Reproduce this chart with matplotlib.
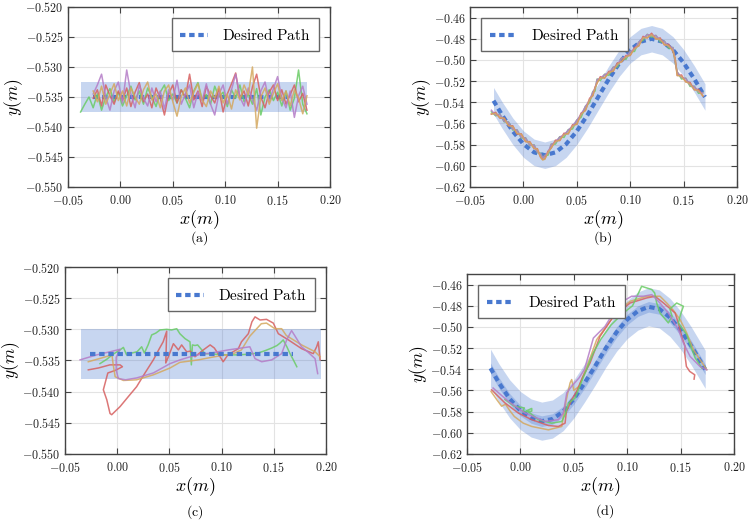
import numpy as np
import matplotlib.pyplot as plt
from matplotlib.ticker import FuncFormatter, MultipleLocator

plt.rcParams['mathtext.fontset'] = 'cm'
plt.rcParams['font.family'] = ['DejaVu Serif']

# ---- colours (seaborn muted style)
c_blue = '#4878CF'
c_green = '#6ACC65'
c_red = '#D65F5F'
c_purple = '#B47CC7'
c_yellow = '#D4A85F'

# ---------------- (a) straight line, noisy tracking ----------------
a_path_x = [-0.026, 0.160]
a_path_y = [-0.535, -0.535]
a_band_x = [-0.038, 0.178]
a_band_lo = -0.5375
a_band_hi = -0.5325

xa = [-0.026, -0.022, -0.018, -0.014, -0.010, -0.006, -0.002, 0.002, 0.006, 0.010,
      0.014, 0.018, 0.022, 0.026, 0.030, 0.034, 0.038, 0.042, 0.046, 0.050,
      0.054, 0.058, 0.062, 0.066, 0.070, 0.074, 0.078, 0.082, 0.086, 0.090,
      0.094, 0.098, 0.102, 0.106, 0.110, 0.114, 0.118, 0.122, 0.126, 0.130,
      0.134, 0.138, 0.142, 0.146, 0.150, 0.154, 0.158, 0.162, 0.166, 0.170,
      0.174, 0.178]
xa_green = [-0.038, -0.034, -0.030] + xa

a_purple = [-0.5345, -0.5330, -0.5312, -0.5350, -0.5372, -0.5340, -0.5325, -0.5360, -0.5305, -0.5345,
            -0.5368, -0.5330, -0.5352, -0.5365, -0.5335, -0.5358, -0.5340, -0.5370, -0.5338, -0.5355,
            -0.5322, -0.5362, -0.5345, -0.5330, -0.5368, -0.5342, -0.5356, -0.5328, -0.5362, -0.5380,
            -0.5345, -0.5330, -0.5362, -0.5338, -0.5312, -0.5350, -0.5365, -0.5335, -0.5355, -0.5372,
            -0.5340, -0.5325, -0.5358, -0.5336, -0.5316, -0.5352, -0.5368, -0.5340, -0.5384, -0.5348,
            -0.5332, -0.5362]
a_red = [-0.5352, -0.5338, -0.5365, -0.5330, -0.5348, -0.5362, -0.5340, -0.5356, -0.5335, -0.5366,
         -0.5342, -0.5326, -0.5358, -0.5345, -0.5368, -0.5335, -0.5352, -0.5380, -0.5345, -0.5330,
         -0.5360, -0.5338, -0.5350, -0.5312, -0.5355, -0.5340, -0.5366, -0.5332, -0.5348, -0.5360,
         -0.5336, -0.5375, -0.5345, -0.5328, -0.5310, -0.5352, -0.5340, -0.5365, -0.5333, -0.5312,
         -0.5350, -0.5368, -0.5342, -0.5330, -0.5356, -0.5338, -0.5362, -0.5346, -0.5330, -0.5358,
         -0.5344, -0.5372]
a_yellow = [-0.5340, -0.5358, -0.5332, -0.5362, -0.5345, -0.5328, -0.5356, -0.5340, -0.5365, -0.5335,
            -0.5350, -0.5362, -0.5338, -0.5325, -0.5355, -0.5345, -0.5368, -0.5340, -0.5330, -0.5358,
            -0.5382, -0.5350, -0.5335, -0.5360, -0.5342, -0.5328, -0.5355, -0.5366, -0.5340, -0.5352,
            -0.5332, -0.5360, -0.5345, -0.5370, -0.5338, -0.5355, -0.5330, -0.5346, -0.5300, -0.5402,
            -0.5350, -0.5335, -0.5362, -0.5344, -0.5328, -0.5356, -0.5340, -0.5365, -0.5338, -0.5352,
            -0.5378, -0.5348]
a_green = [-0.5375, -0.5362, -0.5350,
           -0.5368, -0.5345, -0.5372, -0.5350, -0.5336, -0.5358, -0.5342, -0.5365, -0.5348, -0.5332,
           -0.5355, -0.5340, -0.5362, -0.5335, -0.5350, -0.5366, -0.5342, -0.5330, -0.5356, -0.5345,
           -0.5360, -0.5338, -0.5352, -0.5368, -0.5340, -0.5326, -0.5355, -0.5346, -0.5362, -0.5332,
           -0.5350, -0.5342, -0.5366, -0.5338, -0.5352, -0.5330, -0.5358, -0.5345, -0.5362, -0.5336,
           -0.5380, -0.5350, -0.5338, -0.5356, -0.5342, -0.5365, -0.5340, -0.5372, -0.5352, -0.5305,
           -0.5362, -0.5378]

# ---------------- (b) sine path, noisy tracking ----------------
b_path_x = [-0.028, -0.02, -0.01, 0.0, 0.01, 0.02, 0.03, 0.04, 0.05, 0.06, 0.07,
            0.08, 0.09, 0.10, 0.11, 0.12, 0.13, 0.14, 0.15, 0.16, 0.17]
b_path_y = [-0.5385, -0.552, -0.5673, -0.5795, -0.5873, -0.590, -0.5873, -0.5795, -0.5673, -0.552, -0.535,
            -0.518, -0.5027, -0.4905, -0.4827, -0.480, -0.4827, -0.4905, -0.5027, -0.518, -0.535]
b_band = 0.0125

xb = [-0.030, -0.026, -0.022, -0.018, -0.014, -0.010, -0.006, -0.002, 0.002, 0.006,
      0.010, 0.013, 0.016, 0.018, 0.020, 0.023, 0.026, 0.030, 0.034, 0.038,
      0.042, 0.046, 0.050, 0.054, 0.058, 0.062, 0.065, 0.067, 0.069, 0.072,
      0.076, 0.080, 0.084, 0.088, 0.092, 0.096, 0.100, 0.104, 0.108, 0.112,
      0.116, 0.120, 0.124, 0.128, 0.132, 0.136, 0.140, 0.142, 0.144, 0.148,
      0.152, 0.156, 0.160, 0.164, 0.168]
b_green = [-0.5490, -0.5528, -0.5512, -0.5585, -0.5585, -0.5662, -0.5660, -0.5738, -0.5735, -0.5810,
           -0.5802, -0.5875, -0.5880, -0.5928, -0.5902, -0.5900, -0.5795, -0.5795, -0.5725, -0.5732,
           -0.5658, -0.5652, -0.5568, -0.5542, -0.5438, -0.5402, -0.5298, -0.5295, -0.5180, -0.5195,
           -0.5135, -0.5145, -0.5068, -0.5065, -0.4980, -0.4995, -0.4920, -0.4920, -0.4830, -0.4815,
           -0.4758, -0.4785, -0.4768, -0.4830, -0.4822, -0.4890, -0.4882, -0.5020, -0.5112, -0.5180,
           -0.5172, -0.5250, -0.5248, -0.5315, -0.5308]
b_red = [-0.5512, -0.5495, -0.5550, -0.5548, -0.5622, -0.5622, -0.5700, -0.5698, -0.5772, -0.5772,
         -0.5838, -0.5838, -0.5918, -0.5940, -0.5935, -0.5862, -0.5832, -0.5758, -0.5762, -0.5692,
         -0.5698, -0.5612, -0.5608, -0.5502, -0.5478, -0.5362, -0.5338, -0.5258, -0.5218, -0.5158,
         -0.5172, -0.5108, -0.5108, -0.5028, -0.5018, -0.4958, -0.4958, -0.4882, -0.4868, -0.4778,
         -0.4792, -0.4748, -0.4802, -0.4792, -0.4858, -0.4852, -0.4918, -0.4982, -0.5148, -0.5142,
         -0.5208, -0.5212, -0.5282, -0.5278, -0.5340]
b_purple = [-0.5475, -0.5522, -0.5515, -0.5580, -0.5588, -0.5655, -0.5662, -0.5732, -0.5738, -0.5805,
            -0.5805, -0.5870, -0.5885, -0.5925, -0.5905, -0.5880, -0.5798, -0.5780, -0.5728, -0.5710,
            -0.5662, -0.5630, -0.5570, -0.5518, -0.5440, -0.5380, -0.5302, -0.5272, -0.5185, -0.5175,
            -0.5138, -0.5125, -0.5072, -0.5048, -0.4982, -0.4975, -0.4922, -0.4900, -0.4832, -0.4798,
            -0.4760, -0.4770, -0.4770, -0.4815, -0.4825, -0.4875, -0.4885, -0.5015, -0.5115, -0.5165,
            -0.5175, -0.5238, -0.5252, -0.5302, -0.5312]
b_yellow = [-0.5510, -0.5505, -0.5545, -0.5552, -0.5620, -0.5628, -0.5695, -0.5702, -0.5770, -0.5778,
            -0.5835, -0.5842, -0.5915, -0.5945, -0.5938, -0.5875, -0.5830, -0.5770, -0.5758, -0.5705,
            -0.5695, -0.5625, -0.5605, -0.5515, -0.5475, -0.5375, -0.5335, -0.5270, -0.5215, -0.5170,
            -0.5170, -0.5120, -0.5105, -0.5040, -0.5015, -0.4970, -0.4955, -0.4895, -0.4865, -0.4790,
            -0.4790, -0.4760, -0.4800, -0.4805, -0.4855, -0.4865, -0.4915, -0.4990, -0.5145, -0.5155,
            -0.5205, -0.5225, -0.5280, -0.5290, -0.5340]

# ---------------- (c) straight line, smooth tracking ----------------
c_path_x = [-0.026, 0.168]
c_path_y = [-0.534, -0.534]
c_band_x = [-0.035, 0.195]
c_band_lo = -0.538
c_band_hi = -0.530

c_green_x = [-0.0165, -0.010, -0.004, 0.0027, 0.0059, 0.009, 0.014, 0.019, 0.0234, 0.026, 0.0296, 0.033,
             0.037, 0.041, 0.0474, 0.052, 0.057, 0.060, 0.065, 0.0697, 0.071, 0.072, 0.0745, 0.077, 0.084,
             0.095, 0.105, 0.116, 0.125, 0.135, 0.142, 0.148, 0.153, 0.156, 0.159, 0.1625, 0.1655, 0.169, 0.172]
c_green_y = [-0.5355, -0.5348, -0.5340, -0.5333, -0.5329, -0.5341, -0.5338, -0.5336, -0.5328, -0.5338, -0.5325,
             -0.5309, -0.5306, -0.5301, -0.5300, -0.5301, -0.5299, -0.5307, -0.5315, -0.5320, -0.5357, -0.5325,
             -0.5326, -0.5325, -0.5339, -0.5340, -0.5341, -0.5341, -0.5340, -0.5338, -0.5334, -0.5330, -0.5326,
             -0.5322, -0.5317, -0.5328, -0.5339, -0.5350, -0.5360]
c_red_x = [-0.0277, -0.018, -0.007, 0.0027, 0.005, -0.002, -0.009, -0.0133, -0.010, -0.0069, -0.0053, 0.0027,
           0.0106, 0.0186, 0.0266, 0.0346, 0.040, 0.044, 0.0474, 0.0465, 0.049, 0.0538, 0.0586, 0.0617, 0.0665,
           0.070, 0.0745, 0.0825, 0.089, 0.093, 0.097, 0.1015, 0.106, 0.111, 0.116, 0.119, 0.1256, 0.129, 0.132,
           0.1368, 0.143, 0.1495, 0.1543, 0.164, 0.1766, 0.1878, 0.191, 0.1926, 0.1943]
c_red_y = [-0.5365, -0.5362, -0.5357, -0.5357, -0.5360, -0.5366, -0.5370, -0.5397, -0.5413, -0.5435, -0.5437,
           -0.5424, -0.5408, -0.5392, -0.5370, -0.5349, -0.5332, -0.5320, -0.5303, -0.5354, -0.5344, -0.5323,
           -0.5333, -0.5325, -0.5336, -0.5335, -0.5344, -0.5333, -0.5325, -0.5330, -0.5340, -0.5352, -0.5341,
           -0.5336, -0.5331, -0.5320, -0.5307, -0.5288, -0.5280, -0.5285, -0.5284, -0.5290, -0.5307, -0.5317,
           -0.5331, -0.5339, -0.5328, -0.5320, -0.5349]
c_yellow_x = [-0.0277, -0.015, -0.005, -0.004, -0.002, 0.0059, 0.0186, 0.0346, 0.0506, 0.060, 0.0777, 0.090,
              0.100, 0.110, 0.119, 0.127, 0.1336, 0.138, 0.143, 0.151, 0.1575, 0.162, 0.1766, 0.1895, 0.1943]
c_yellow_y = [-0.5352, -0.5346, -0.5341, -0.5355, -0.5376, -0.5382, -0.5381, -0.5373, -0.5362, -0.5353, -0.5349,
              -0.5345, -0.5342, -0.5340, -0.5333, -0.5311, -0.5299, -0.5291, -0.5290, -0.5299, -0.5299, -0.5310,
              -0.5325, -0.5336, -0.5344]
c_purple_x = [-0.0356, -0.0197, -0.0069, 0.0027, -0.001, -0.001, 0.001, 0.008, 0.0186, 0.0346, 0.0506, 0.0602,
              0.070, 0.080, 0.090, 0.1065, 0.127, 0.132, 0.1384, 0.148, 0.1575, 0.1623, 0.167, 0.170, 0.1766,
              0.183, 0.1895, 0.192]
c_purple_y = [-0.5349, -0.5341, -0.5336, -0.5332, -0.5345, -0.5365, -0.5379, -0.5381, -0.5378, -0.5370, -0.5355,
              -0.5349, -0.5344, -0.5340, -0.5338, -0.5333, -0.5328, -0.5347, -0.5352, -0.5349, -0.5339, -0.5317,
              -0.5302, -0.5310, -0.5328, -0.5337, -0.5347, -0.5371]

# ---------------- (d) sine path, smooth tracking ----------------
d_path_x = [-0.028, -0.02, -0.01, 0.0, 0.01, 0.02, 0.03, 0.04, 0.05, 0.06, 0.07,
            0.08, 0.09, 0.10, 0.11, 0.12, 0.13, 0.14, 0.15, 0.16, 0.173]
d_path_y = [-0.539, -0.553, -0.568, -0.579, -0.586, -0.589, -0.587, -0.580, -0.568, -0.553, -0.537,
            -0.520, -0.505, -0.493, -0.485, -0.481, -0.483, -0.491, -0.503, -0.518, -0.540]
d_band_outer = 0.018
d_band_inner = 0.005

d_yellow_x = [-0.0275, -0.0222, -0.0176, -0.014, -0.010, -0.0057, 0.0027, 0.0106, 0.0262, 0.0387, 0.0418, 0.044,
              0.0465, 0.048, 0.050, 0.055, 0.060, 0.065, 0.0714, 0.080, 0.087, 0.095, 0.1027, 0.1183, 0.1307,
              0.137, 0.143, 0.1495, 0.1557, 0.162, 0.1682, 0.1745]
d_yellow_y = [-0.5610, -0.5686, -0.5749, -0.5730, -0.5790, -0.5846, -0.5909, -0.5940, -0.5972, -0.5940, -0.5749,
              -0.5640, -0.5529, -0.5497, -0.5600, -0.5560, -0.5430, -0.5300, -0.5120, -0.5000, -0.4903, -0.4820,
              -0.4758, -0.4710, -0.4710, -0.4774, -0.4840, -0.4931, -0.5057, -0.5215, -0.5310, -0.5404]
d_red_x = [-0.027, -0.0145, -0.002, 0.0106, 0.0262, 0.0355, 0.0418, 0.043, 0.048, 0.053, 0.058, 0.0652, 0.0745,
           0.087, 0.1027, 0.1183, 0.1261, 0.134, 0.1448, 0.1479, 0.151, 0.1542, 0.1538, 0.1554, 0.1585, 0.1632,
           0.1626]
d_red_y = [-0.5594, -0.5718, -0.5813, -0.5876, -0.5931, -0.5940, -0.5909, -0.5800, -0.5688, -0.5600, -0.5480,
           -0.5340, -0.5090, -0.4903, -0.4774, -0.4726, -0.4711, -0.4774, -0.4868, -0.4963, -0.5089, -0.5184,
           -0.5247, -0.5373, -0.5420, -0.5452, -0.5493]
d_green_x = [-0.0145, -0.0057, 0.0037, 0.0020, 0.0106, 0.0106, 0.0060, 0.0168, 0.0293, 0.0387, 0.0418, 0.045,
             0.0512, 0.056, 0.062, 0.068, 0.075, 0.085, 0.095, 0.105, 0.1135, 0.123, 0.1257, 0.1276, 0.1307,
             0.1385, 0.1420, 0.1400, 0.1463, 0.1526, 0.1500, 0.1479, 0.1557, 0.1589, 0.1636, 0.1698]
d_green_y = [-0.5686, -0.5749, -0.5765, -0.5800, -0.5796, -0.5770, -0.5790, -0.5876, -0.5909, -0.5893, -0.5829,
             -0.5720, -0.5671, -0.5550, -0.5400, -0.5250, -0.5120, -0.4980, -0.4880, -0.4800, -0.4616, -0.4647,
             -0.4679, -0.4774, -0.4868, -0.4962, -0.4900, -0.4830, -0.4774, -0.4805, -0.4880, -0.4962, -0.5073,
             -0.5167, -0.5293, -0.5388]
d_purple_x = [-0.0256, -0.0114, 0.0043, 0.0231, 0.0355, 0.0402, 0.0418, 0.0434, 0.048, 0.055, 0.060, 0.0652,
              0.0683, 0.0792, 0.087, 0.0933, 0.1041, 0.1151, 0.123, 0.1307, 0.1385, 0.1479, 0.1526, 0.1589,
              0.1682, 0.1745]
d_purple_y = [-0.5577, -0.5702, -0.5813, -0.5893, -0.5876, -0.5813, -0.5718, -0.5623, -0.5560, -0.5480, -0.5400,
              -0.5216, -0.5105, -0.4995, -0.4868, -0.4774, -0.4710, -0.4710, -0.4695, -0.4774, -0.4868, -0.5026,
              -0.5152, -0.5279, -0.5374, -0.5405]


fig = plt.figure(figsize=(7.5, 5.22), dpi=100)
ax_a = fig.add_axes([0.0907, 0.6418, 0.3493, 0.3448])
ax_b = fig.add_axes([0.6267, 0.6418, 0.3560, 0.3448])
ax_c = fig.add_axes([0.0867, 0.1303, 0.3480, 0.3582])
ax_d = fig.add_axes([0.6227, 0.1303, 0.3560, 0.3448])

fmt2 = FuncFormatter(lambda v, p: '$%.2f$' % v)
fmt3 = FuncFormatter(lambda v, p: '$%.3f$' % v)


def style(ax, ylim, ystep, yfmt):
    ax.set_xlim(-0.05, 0.20)
    ax.set_ylim(*ylim)
    ax.xaxis.set_major_locator(MultipleLocator(0.05))
    ax.yaxis.set_major_locator(MultipleLocator(ystep))
    ax.xaxis.set_major_formatter(fmt2)
    ax.yaxis.set_major_formatter(yfmt)
    ax.grid(True, color='#e3e3e3', linewidth=0.8)
    ax.set_axisbelow(True)
    ax.tick_params(direction='in', top=True, right=True, length=4, width=0.8,
                   colors='#444444', labelsize=8.7, labelcolor='#222222')
    ax.tick_params(axis='x', pad=5)
    ax.tick_params(axis='y', pad=3)
    for s in ax.spines.values():
        s.set_color('#444444')
        s.set_linewidth(1.0)
    ax.set_xlabel('$x(m)$', fontsize=13, labelpad=0)
    ax.set_ylabel('$y(m)$', fontsize=12.5, labelpad=0)


def path(ax, x, y, z):
    ax.plot(x, y, color=c_blue, lw=3, dashes=(1.3, 0.9), zorder=z,
            label='$\\mathrm{Desired\\ Path}$')


def legend(ax, loc):
    lg = ax.legend(loc=loc, fontsize=11, fancybox=False, framealpha=1,
                   edgecolor='#666666', handlelength=1.8, borderpad=0.55,
                   borderaxespad=0.75, handletextpad=0.9)
    lg.get_frame().set_linewidth(1.0)


lw_t = 1.1
al = 0.85

# (a)
style(ax_a, (-0.550, -0.520), 0.005, fmt3)
ax_a.fill_between(a_band_x, a_band_lo, a_band_hi, color=c_blue, alpha=0.3, lw=0, zorder=1)
path(ax_a, a_path_x, a_path_y, 2)
ax_a.plot(xa_green, a_green, color=c_green, lw=lw_t, alpha=al, zorder=3)
ax_a.plot(xa, a_red, color=c_red, lw=lw_t, alpha=al, zorder=3)
ax_a.plot(xa, a_purple, color=c_purple, lw=lw_t, alpha=al, zorder=3)
ax_a.plot(xa, a_yellow, color=c_yellow, lw=lw_t, alpha=al, zorder=3)
legend(ax_a, 'upper right')

# (b)
style(ax_b, (-0.62, -0.45), 0.02, fmt2)
b_lo = [v - b_band for v in b_path_y]
b_hi = [v + b_band for v in b_path_y]
ax_b.fill_between(b_path_x, b_lo, b_hi, color=c_blue, alpha=0.3, lw=0, zorder=1)
path(ax_b, b_path_x, b_path_y, 2)
ax_b.plot(xb, b_green, color=c_green, lw=lw_t, alpha=al, zorder=3)
ax_b.plot(xb, b_red, color=c_red, lw=lw_t, alpha=al, zorder=3)
ax_b.plot(xb, b_purple, color=c_purple, lw=lw_t, alpha=al, zorder=3)
ax_b.plot(xb, b_yellow, color=c_yellow, lw=lw_t, alpha=al, zorder=3)
ax_b.set_yticks(ax_b.get_yticks()[ax_b.get_yticks() < -0.455])
ax_b.set_ylim(-0.62, -0.45)
legend(ax_b, 'upper left')

# (c)
style(ax_c, (-0.550, -0.520), 0.005, fmt3)
ax_c.fill_between(c_band_x, c_band_lo, c_band_hi, color=c_blue, alpha=0.3, lw=0, zorder=1)
ax_c.plot(c_green_x, c_green_y, color=c_green, lw=lw_t, alpha=al, zorder=2)
ax_c.plot(c_red_x, c_red_y, color=c_red, lw=lw_t, alpha=al, zorder=2)
ax_c.plot(c_yellow_x, c_yellow_y, color=c_yellow, lw=lw_t, alpha=al, zorder=2)
ax_c.plot(c_purple_x, c_purple_y, color=c_purple, lw=lw_t, alpha=al, zorder=2)
path(ax_c, c_path_x, c_path_y, 3)
legend(ax_c, 'upper right')

# (d)
style(ax_d, (-0.62, -0.45), 0.02, fmt2)
d_lo = [v - d_band_outer for v in d_path_y]
d_hi = [v + d_band_outer for v in d_path_y]
d_lo2 = [v - d_band_inner for v in d_path_y]
d_hi2 = [v + d_band_inner for v in d_path_y]
ax_d.fill_between(d_path_x, d_lo, d_hi, color=c_blue, alpha=0.3, lw=0, zorder=1)
ax_d.fill_between(d_path_x, d_lo2, d_hi2, color=c_blue, alpha=0.3, lw=0, zorder=1)
path(ax_d, d_path_x, d_path_y, 2)
ax_d.plot(d_yellow_x, d_yellow_y, color=c_yellow, lw=lw_t, alpha=al, zorder=3)
ax_d.plot(d_red_x, d_red_y, color=c_red, lw=lw_t, alpha=al, zorder=3)
ax_d.plot(d_green_x, d_green_y, color=c_green, lw=lw_t, alpha=al, zorder=3)
ax_d.plot(d_purple_x, d_purple_y, color=c_purple, lw=lw_t, alpha=al, zorder=3)
ax_d.set_yticks(ax_d.get_yticks()[ax_d.get_yticks() < -0.455])
ax_d.set_ylim(-0.62, -0.45)
legend(ax_d, 'upper left')

# captions
fig.text(0.265, 0.544, '$\\mathrm{(a)}$', ha='center', va='center', fontsize=10)
fig.text(0.804, 0.544, '$\\mathrm{(b)}$', ha='center', va='center', fontsize=10)
fig.text(0.260, 0.019, '$\\mathrm{(c)}$', ha='center', va='center', fontsize=10)
fig.text(0.806, 0.021, '$\\mathrm{(d)}$', ha='center', va='center', fontsize=10)

fig.savefig('out.png', dpi=100)
